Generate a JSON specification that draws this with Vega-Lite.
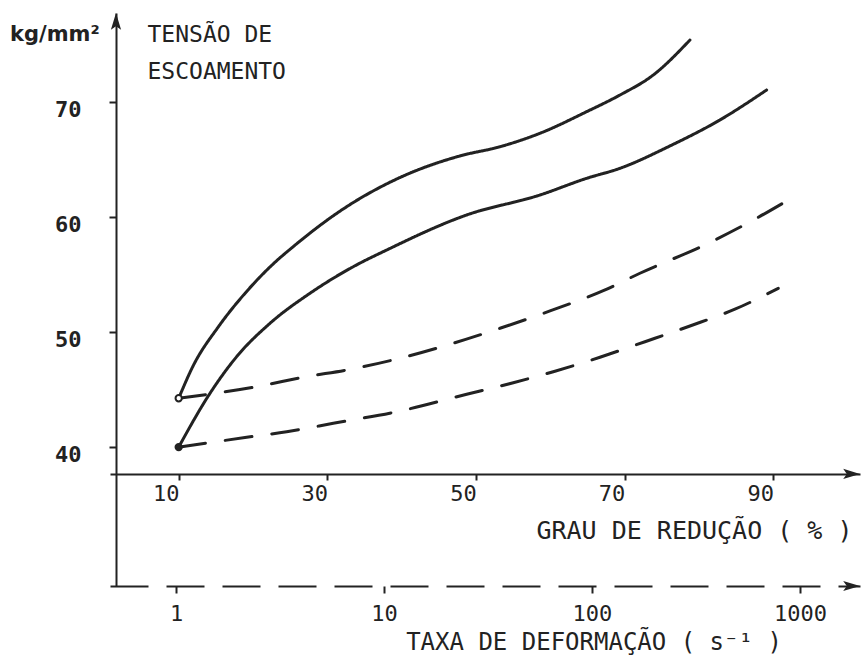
{
  "$schema": "https://vega.github.io/schema/vega-lite/v6.json",
  "width": 750,
  "height": 573,
  "autosize": {"type": "none"},
  "padding": {"left": 110, "top": 13, "right": 3, "bottom": 77},
  "background": "#ffffff",
  "config": {
    "view": {"stroke": null},
    "font": "DejaVu Sans Mono",
    "axis": {
      "grid": false,
      "domainColor": "#222222",
      "domainWidth": 2,
      "tickColor": "#222222",
      "tickWidth": 2,
      "labelColor": "#222222",
      "titleColor": "#222222",
      "labelFont": "DejaVu Sans Mono",
      "titleFont": "DejaVu Sans Mono",
      "labelFontWeight": "normal",
      "titleFontWeight": "normal"
    }
  },
  "title": {
    "text": "kg/mm²",
    "anchor": "start",
    "frame": "group",
    "orient": "top",
    "offset": 0,
    "baseline": "middle",
    "dx": -100,
    "dy": 43,
    "font": "DejaVu Sans",
    "fontSize": 21,
    "fontWeight": "bold",
    "color": "#222222"
  },
  "datasets": {
    "curvas": [
      {"serie": "S1", "tipo": "solido", "reducao": 10, "tensao": 44.25},
      {"serie": "S1", "tipo": "solido", "reducao": 11.96, "tensao": 47.09},
      {"serie": "S1", "tipo": "solido", "reducao": 15.33, "tensao": 50.46},
      {"serie": "S1", "tipo": "solido", "reducao": 19.15, "tensao": 53.55},
      {"serie": "S1", "tipo": "solido", "reducao": 22.73, "tensao": 55.95},
      {"serie": "S1", "tipo": "solido", "reducao": 25.42, "tensao": 57.45},
      {"serie": "S1", "tipo": "solido", "reducao": 32.6, "tensao": 60.92},
      {"serie": "S1", "tipo": "solido", "reducao": 39.77, "tensao": 63.46},
      {"serie": "S1", "tipo": "solido", "reducao": 47.85, "tensao": 65.34},
      {"serie": "S1", "tipo": "solido", "reducao": 53.23, "tensao": 66.14},
      {"serie": "S1", "tipo": "solido", "reducao": 58.61, "tensao": 67.31},
      {"serie": "S1", "tipo": "solido", "reducao": 64.89, "tensao": 69.19},
      {"serie": "S1", "tipo": "solido", "reducao": 69.37, "tensao": 70.64},
      {"serie": "S1", "tipo": "solido", "reducao": 73.85, "tensao": 72.38},
      {"serie": "S1", "tipo": "solido", "reducao": 78.79, "tensao": 75.43},
      {"serie": "S2", "tipo": "solido", "reducao": 10, "tensao": 40.0},
      {"serie": "S2", "tipo": "solido", "reducao": 14.21, "tensao": 44.68},
      {"serie": "S2", "tipo": "solido", "reducao": 17.8, "tensao": 47.87},
      {"serie": "S2", "tipo": "solido", "reducao": 22.28, "tensao": 50.77},
      {"serie": "S2", "tipo": "solido", "reducao": 27.67, "tensao": 53.39},
      {"serie": "S2", "tipo": "solido", "reducao": 33.49, "tensao": 55.7},
      {"serie": "S2", "tipo": "solido", "reducao": 37.98, "tensao": 57.15},
      {"serie": "S2", "tipo": "solido", "reducao": 48.75, "tensao": 60.2},
      {"serie": "S2", "tipo": "solido", "reducao": 58.61, "tensao": 61.94},
      {"serie": "S2", "tipo": "solido", "reducao": 64.89, "tensao": 63.39},
      {"serie": "S2", "tipo": "solido", "reducao": 69.37, "tensao": 64.26},
      {"serie": "S2", "tipo": "solido", "reducao": 76.1, "tensao": 66.21},
      {"serie": "S2", "tipo": "solido", "reducao": 82.82, "tensao": 68.47},
      {"serie": "S2", "tipo": "solido", "reducao": 89.11, "tensao": 71.08},
      {"serie": "D1", "tipo": "tracejado", "reducao": 10, "tensao": 44.25},
      {"serie": "D1", "tipo": "tracejado", "reducao": 20.49, "tensao": 45.26},
      {"serie": "D1", "tipo": "tracejado", "reducao": 27.22, "tensao": 46.13},
      {"serie": "D1", "tipo": "tracejado", "reducao": 32.6, "tensao": 46.71},
      {"serie": "D1", "tipo": "tracejado", "reducao": 39.77, "tensao": 47.73},
      {"serie": "D1", "tipo": "tracejado", "reducao": 46.5, "tensao": 48.95},
      {"serie": "D1", "tipo": "tracejado", "reducao": 53.23, "tensao": 50.34},
      {"serie": "D1", "tipo": "tracejado", "reducao": 59.96, "tensao": 51.85},
      {"serie": "D1", "tipo": "tracejado", "reducao": 67.13, "tensao": 53.61},
      {"serie": "D1", "tipo": "tracejado", "reducao": 72.06, "tensao": 55.13},
      {"serie": "D1", "tipo": "tracejado", "reducao": 81.25, "tensao": 57.74},
      {"serie": "D1", "tipo": "tracejado", "reducao": 87.98, "tensao": 60.0},
      {"serie": "D1", "tipo": "tracejado", "reducao": 92.25, "tensao": 61.59},
      {"serie": "D2", "tipo": "tracejado", "reducao": 10, "tensao": 40.0},
      {"serie": "D2", "tipo": "tracejado", "reducao": 19.15, "tensao": 40.85},
      {"serie": "D2", "tipo": "tracejado", "reducao": 24.53, "tensao": 41.34},
      {"serie": "D2", "tipo": "tracejado", "reducao": 30.8, "tensao": 42.07},
      {"serie": "D2", "tipo": "tracejado", "reducao": 39.77, "tensao": 43.14},
      {"serie": "D2", "tipo": "tracejado", "reducao": 48.75, "tensao": 44.6},
      {"serie": "D2", "tipo": "tracejado", "reducao": 55.02, "tensao": 45.6},
      {"serie": "D2", "tipo": "tracejado", "reducao": 60.4, "tensao": 46.56},
      {"serie": "D2", "tipo": "tracejado", "reducao": 66.68, "tensao": 47.82},
      {"serie": "D2", "tipo": "tracejado", "reducao": 72.74, "tensao": 49.17},
      {"serie": "D2", "tipo": "tracejado", "reducao": 78.79, "tensao": 50.54},
      {"serie": "D2", "tipo": "tracejado", "reducao": 84.84, "tensao": 52.0},
      {"serie": "D2", "tipo": "tracejado", "reducao": 90.67, "tensao": 53.82}
    ],
    "pontos": [
      {"tipo": "aberto", "reducao": 10, "tensao": 44.25},
      {"tipo": "cheio", "reducao": 10, "tensao": 40.0}
    ],
    "setas": [
      {"dir": "direita", "reducao": 101.67, "tensao": 37.66},
      {"dir": "direita", "reducao": 101.67, "tensao": 27.91},
      {"dir": "cima", "reducao": 1.564, "tensao": 77.78}
    ],
    "taxa": [
      {"taxa": 1}, {"taxa": 10}, {"taxa": 100}, {"taxa": 1000}
    ]
  },
  "layer": [
    {
      "encoding": {
        "x": {
          "field": "reducao",
          "type": "quantitative",
          "scale": {"domain": [0.757, 101.67], "nice": false, "zero": false},
          "axis": {
            "orient": "bottom",
            "offset": -112,
            "values": [10, 30, 50, 70, 90],
            "tickSize": 6,
            "labelFontSize": 22,
            "labelBaseline": "middle",
            "labelPadding": 13,
            "labelOffset": -13,
            "labelFlush": false,
            "labelOverlap": false,
            "title": "GRAU DE REDUÇÃO ( % )",
            "titleFontSize": 25,
            "titleAlign": "right",
            "titleBaseline": "middle",
            "titleX": 742,
            "titleY": 56
          }
        },
        "y": {
          "field": "tensao",
          "type": "quantitative",
          "scale": {"domain": [27.91, 77.78], "nice": false, "zero": false},
          "axis": {
            "orient": "left",
            "offset": -6,
            "values": [40, 50, 60, 70],
            "tickSize": 7,
            "labelFontSize": 22,
            "labelFontWeight": "bold",
            "labelPadding": 28,
            "labelOffset": 7,
            "labelFlush": false,
            "labelOverlap": false,
            "title": ["TENSÃO DE", "ESCOAMENTO"],
            "titleAngle": 0,
            "titleAlign": "left",
            "titleBaseline": "middle",
            "titleFontSize": 23,
            "titleLineHeight": 37,
            "titleX": 31,
            "titleY": 21.5
          }
        }
      },
      "layer": [
        {
          "data": {"name": "curvas"},
          "mark": {"type": "line", "interpolate": "monotone", "strokeWidth": 3, "color": "#222222", "strokeCap": "round"},
          "encoding": {
            "detail": {"field": "serie", "type": "nominal"},
            "strokeDash": {
              "field": "tipo",
              "type": "nominal",
              "scale": {"domain": ["solido", "tracejado"], "range": [[1, 0], [27, 20]]},
              "legend": null
            }
          }
        },
        {
          "data": {"name": "pontos"},
          "mark": {"type": "point", "filled": true, "size": 40, "stroke": "#222222", "strokeWidth": 2, "opacity": 1},
          "encoding": {
            "fill": {
              "field": "tipo",
              "type": "nominal",
              "scale": {"domain": ["aberto", "cheio"], "range": ["#ffffff", "#222222"]},
              "legend": null
            }
          }
        },
        {
          "data": {"name": "setas"},
          "transform": [{"filter": "datum.dir === 'direita'"}],
          "mark": {"type": "point", "shape": "M0,0L-2.8,-0.85L-2.2,0L-2.8,0.85Z", "filled": true, "size": 144, "color": "#222222", "opacity": 1}
        },
        {
          "data": {"name": "setas"},
          "transform": [{"filter": "datum.dir === 'cima'"}],
          "mark": {"type": "point", "shape": "M0,0L-0.85,2.8L0,2.2L0.85,2.8Z", "filled": true, "size": 144, "color": "#222222", "opacity": 1}
        }
      ]
    },
    {
      "data": {"name": "taxa"},
      "mark": {"type": "point", "opacity": 0},
      "encoding": {
        "x": {
          "field": "taxa",
          "type": "quantitative",
          "scale": {"type": "log", "domain": [0.4816, 1943], "nice": false},
          "axis": {
            "orient": "bottom",
            "offset": 0,
            "values": [1, 10, 100, 1000],
            "format": "d",
            "domainDash": [38, 18],
            "tickSize": 7,
            "labelFontSize": 22,
            "labelBaseline": "middle",
            "labelPadding": 20,
            "labelFlush": false,
            "labelOverlap": false,
            "title": "TAXA DE DEFORMAÇÃO ( s⁻¹ )",
            "titleFontSize": 24,
            "titleAlign": "center",
            "titleBaseline": "middle",
            "titleX": 483.5,
            "titleY": 56
          }
        }
      }
    }
  ],
  "resolve": {"scale": {"x": "independent"}, "axis": {"x": "independent"}}
}
